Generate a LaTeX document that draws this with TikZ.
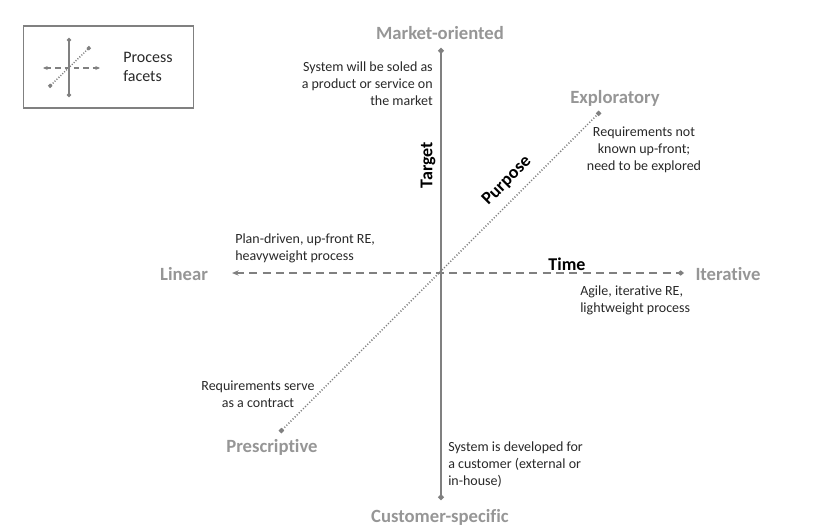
\documentclass[tikz,border=0pt]{standalone}
\usepackage{fontspec}
\setmainfont{Carlito}[Ligatures=NoCommon]
\usetikzlibrary{arrows.meta}

\definecolor{axisgray}{RGB}{128,128,128}
\definecolor{polegray}{RGB}{150,150,150}
\definecolor{notegray}{RGB}{40,40,40}

\tikzset{
  pole/.style={text=polegray,font=\fontsize{14}{16}\selectfont\bfseries},
  facet/.style={font=\fontsize{13.5}{15}\selectfont\bfseries},
  note/.style={text=notegray,font=\fontsize{10.5}{12.75}\selectfont,inner sep=0pt},
  targetaxis/.style={draw=axisgray,line width=1.6pt,{Circle[length=4pt]}-{Circle[length=4pt]}},
  timeaxis/.style={draw=axisgray,line width=1.6pt,dash pattern=on 6pt off 4pt,{Stealth[length=5pt,width=4pt]}-{Diamond[length=5pt,width=4pt]}},
  purposeaxis/.style={draw=axisgray,line width=1.1pt,dash pattern=on 0.8pt off 1.4pt,{Square[length=3pt]}-{Square[length=3pt]}},
}

\begin{document}
\begin{tikzpicture}[x=0.75pt,y=-0.75pt]
  \useasboundingbox (0,0) rectangle (818,532);

  % legend
  \node[draw=axisgray,line width=0.8pt,minimum width=127pt,minimum height=61.5pt] (legend) at (108.5,67) {};
  \coordinate (lt) at (69,38); \coordinate (lb) at (69,97);
  \coordinate (ll) at (43,68); \coordinate (lr) at (100,68);
  \coordinate (ld) at (49,87); \coordinate (lu) at (90,47);
  \draw[draw=axisgray,line width=1.3pt,{Circle[length=3pt]}-{Circle[length=3pt]}] (lt) -- (lb);
  \draw[draw=axisgray,line width=1.3pt,dash pattern=on 4pt off 3pt,{Stealth[length=3.5pt,width=3pt]}-{Stealth[length=3.5pt,width=3pt]}] (ll) -- (lr);
  \draw[draw=axisgray,line width=1.1pt,dash pattern=on 0.8pt off 1.2pt,{Square[length=2.5pt]}-{Square[length=2.5pt]}] (ld) -- (lu);
  \node[note,align=left,anchor=west,font=\fontsize{12}{14}\selectfont] (legendtext) at (123,67) {Process\\facets};

  % end points of the facets
  \coordinate (top) at (441,48); \coordinate (bottom) at (441,500);
  \coordinate (left) at (232,273); \coordinate (right) at (684,273);
  \coordinate (sw) at (280,432); \coordinate (ne) at (600,112);

  \draw[targetaxis] (bottom) -- (top);
  \draw[timeaxis] (left) -- (right);
  \draw[purposeaxis] (sw) -- (ne);

  % poles
  \node[pole] (market) at (440,33) {Market-oriented};
  \node[pole] (customer) at (440,517) {Customer-specific};
  \node[pole] (linear) at (184,274) {Linear};
  \node[pole] (iterative) at (728,274) {Iterative};
  \node[pole] (exploratory) at (615,98) {Exploratory};
  \node[pole] (prescriptive) at (272,447) {Prescriptive};

  % facet names
  \node[facet,rotate=90] (target) at (428,165) {Target};
  \node[facet,rotate=45] (purpose) at (507,181) {Purpose};
  \node[facet] (time) at (567,264) {Time};

  % descriptions
  \node[note,align=right,anchor=east] (marketnote) at (433,84) {System will be soled as\\a product or service on\\the market};
  \node[note,align=center] (explnote) at (644,150) {Requirements not\\known up-front;\\need to be explored};
  \node[note,align=left,anchor=west] (linearnote) at (235,248) {Plan-driven, up-front RE,\\heavyweight process};
  \node[note,align=left,anchor=west] (iternote) at (580,300) {Agile, iterative RE,\\lightweight process};
  \node[note,align=center] (prescnote) at (258,394) {Requirements serve\\as a contract};
  \node[note,align=left,anchor=west] (custnote) at (448,465) {System is developed for\\a customer (external or\\in-house)};
\end{tikzpicture}
\end{document}
